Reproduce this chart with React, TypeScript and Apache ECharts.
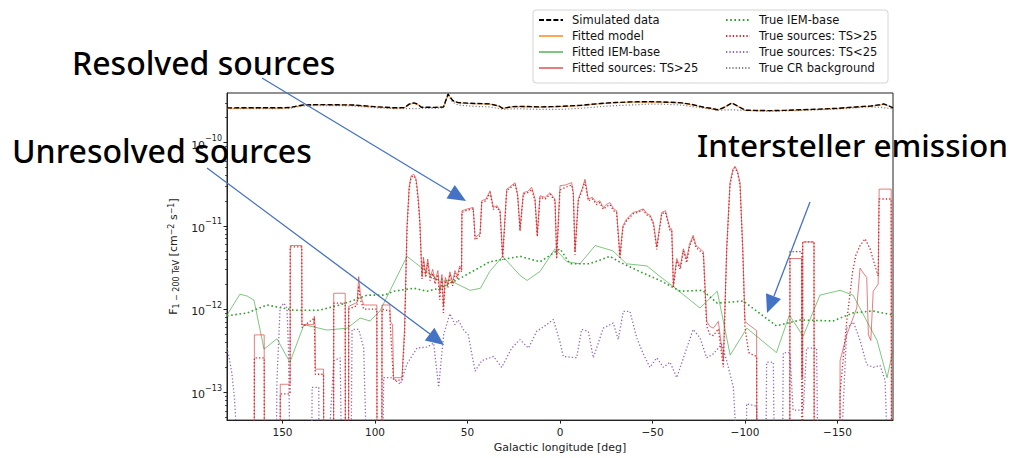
import React, { useEffect, useRef } from 'react';
import * as echarts from 'echarts';

// values in units of 1e-12 cm^-2 s^-1 ; B = below plotted floor
const UNIT = 1e-12;
const B = 0.01;

const simulatedData: number[][] = [
  [180, 261], [170, 262], [162, 262], [150, 262], [146, 264], [139, 283], [130, 286], [124, 285], [112, 283],
  [100, 270], [90, 262], [84, 263], [81.5, 290], [79, 300], [77, 290], [75, 266], [68, 265], [63, 268],
  [60.5, 383], [58, 320], [55, 302], [50, 298], [46, 295], [38, 292], [33, 275], [31, 258], [26, 270],
  [22, 272], [15, 270], [11, 268], [5, 270], [0, 272], [-11, 280], [-22, 295], [-30, 303], [-39, 308],
  [-48, 310], [-54, 308], [-60, 305], [-66, 300], [-72, 285], [-78, 265], [-82, 258], [-85, 248], [-88, 260],
  [-93, 299], [-96, 275], [-100, 245], [-107, 243], [-114, 242], [-122, 244], [-130, 248], [-140, 252],
  [-150, 258], [-160, 268], [-168, 275], [-173, 285], [-175, 291], [-178, 275], [-180, 261],
];

const fittedModel: number[][] = [
  [180, 258], [170, 260], [162, 261], [150, 260], [146, 263], [139, 281], [130, 284], [124, 284], [112, 281],
  [100, 268], [90, 261], [84, 262], [81.5, 288], [79, 298], [77, 288], [75, 265], [68, 264], [63, 267],
  [60.5, 378], [58, 318], [55, 300], [50, 296], [46, 293], [38, 290], [33, 274], [31, 257], [26, 268],
  [22, 270], [15, 268], [11, 266], [5, 268], [0, 270], [-11, 278], [-22, 293], [-30, 301], [-39, 306],
  [-48, 308], [-54, 306], [-60, 303], [-66, 298], [-72, 283], [-78, 263], [-82, 256], [-85, 247], [-88, 258],
  [-93, 296], [-96, 273], [-100, 244], [-107, 242], [-114, 241], [-122, 243], [-130, 247], [-140, 251],
  [-150, 257], [-160, 266], [-168, 273], [-173, 283], [-175, 288], [-178, 273], [-180, 259],
];

const trueCRBackground: number[][] = [
  [180, 255], [165, 256], [150, 256], [146, 258], [139, 276], [124, 278], [112, 276], [100, 262], [90, 256],
  [80, 256], [68, 257], [63, 262], [60.5, 372], [58, 305], [55, 282], [46, 272], [38, 268], [31, 252],
  [22, 255], [11, 250], [0, 250], [-11, 258], [-22, 270], [-30, 278], [-39, 283], [-48, 290], [-54, 290],
  [-66, 282], [-78, 258], [-85, 245], [-93, 248], [-100, 243], [-114, 238], [-130, 243], [-150, 252],
  [-166, 268], [-173, 265], [-180, 255],
];

const fittedIEM: number[][] = [
  [180, 0.85], [173, 1.51], [169, 1.43], [165.4, 1.28], [160, 0.33], [153, 0.44], [146, 0.23], [138.4, 0.65],
  [126, 0.56], [115, 0.59], [108, 0.78], [102.7, 0.72], [97.3, 0.95], [92, 1.64], [82.7, 4.3], [75.7, 3.25],
  [72, 2.83], [65, 2.15], [59.5, 2.21], [48.6, 1.68], [43, 1.78], [38, 2.83], [31, 4.3], [21.6, 2.54],
  [17.8, 2.21], [10.8, 2.83], [2.7, 5.3], [-3.8, 3.7], [-10.8, 3.5], [-19, 5.8], [-28.6, 5.0], [-36, 3.5],
  [-47, 3.3], [-54, 2.47], [-61, 1.88], [-75.7, 1.03], [-85, 1.64], [-92, 0.28], [-101, 0.59], [-117, 0.30],
  [-124, 0.85], [-131.4, 0.47], [-140.5, 1.47], [-151.4, 1.68], [-158.4, 1.47], [-171.4, 0.42],
  [-176.8, 0.15], [-180, 0.32],
];

const trueIEM: number[][] = [
  [180, 0.83], [169, 0.9], [158.4, 1.12], [144, 0.97], [130, 0.97], [119, 1.12], [111.4, 1.28], [104.3, 1.47],
  [95, 1.47], [89.7, 1.64], [79, 1.78], [72, 1.64], [65, 1.78], [54, 2.34], [38, 3.7], [21.6, 4.3],
  [10.8, 3.7], [0, 5.3], [-5.4, 3.5], [-16, 3.5], [-27, 4.3], [-32, 3.7], [-43, 2.83], [-54, 2.21],
  [-65, 1.64], [-77, 1.68], [-85, 1.18], [-99, 1.25], [-117, 0.63], [-130, 0.74], [-147.6, 0.72],
  [-158.4, 0.9], [-169, 0.95], [-180, 0.85],
];

const fittedSources: number[][] = [
  [180, B], [165.3, B], [165.2, 0.49], [159.9, 0.49], [159.8, B],
  [151.3, B], [151.2, 0.125], [145.9, 0.125], [145.8, 5.8], [139.6, 5.8], [139.5, 0.65], [133.2, 0.65],
  [132.8, 0.82], [132.4, 0.65], [132.3, 0.19], [127.8, 0.19], [127.7, B],
  [122.4, B], [122.3, 1.55], [116.1, 1.55], [116, B],
  [114.3, B], [114.2, 1.08], [109.7, 1.2], [108.8, 2.45], [107.9, 1.48], [106.1, 1.12], [99, 1.12], [98.9, B],
  [96.3, B], [96.2, 1.12], [92, 1.12], [91.7, 0.71], [90.5, 0.65], [90, 0.15], [85.4, 0.15], [84, 0.6],
  [82.7, 10], [81.5, 30], [80.5, 39.7], [79.1, 41.6], [78, 38], [77.3, 30], [76.5, 20], [75.8, 12], [74.6, 2.5],
  [73.8, 4.2], [72.6, 2.6], [71.5, 4.0], [70.2, 2.4], [68.8, 3.0], [67.5, 2.2], [66, 2.9], [65, 1.6],
  [63.8, 2.6], [63, 1.1], [62, 2.4], [60.6, 2.0], [59.5, 2.8], [58, 2.1], [56.8, 2.9], [55.5, 2.5], [54.2, 3.3],
  [53.2, 3.0],
  [53, 15.2], [50, 16], [46.9, 16.6], [45.9, 7.3], [43.2, 8.0], [42.3, 20], [40, 21], [37.8, 26.3], [36, 16.6],
  [34, 17.5], [32.4, 15.2], [31, 4.4], [28.8, 27.6], [26.5, 30], [24.3, 33], [22.9, 24], [21.6, 9.2], [19.8, 25],
  [17.5, 26], [15.3, 29], [13.5, 21], [12.3, 8.0], [10.8, 23], [8, 22], [5.4, 25], [2.7, 21], [1.8, 4.4],
  [0, 30.3], [-3, 31], [-6.3, 33], [-7.2, 25], [-8.1, 4.9], [-9.9, 21], [-12, 28], [-13.5, 36.3], [-15.3, 21],
  [-17.5, 22], [-19.8, 19], [-21.5, 20], [-23.4, 16.6], [-25, 18], [-27, 19], [-29, 16], [-30.6, 15.2],
  [-32.4, 4.4], [-34, 10], [-36, 12.1], [-39.6, 14.5], [-42, 15], [-45, 16], [-47, 14], [-48.6, 13.5],
  [-50.5, 11], [-52.3, 5.6], [-55, 14.5], [-57, 15.2], [-59.5, 9.2], [-60.4, 9.2], [-61.3, 1.95], [-63.1, 4.05],
  [-65, 3.2], [-66.7, 5.3], [-68.5, 4.0], [-70, 6.0], [-72, 7.7], [-73.5, 5.8], [-75.7, 5.3], [-77.5, 4.9],
  [-79.3, 0.71], [-81, 0.62], [-82.9, 0.59], [-85.6, 0.71], [-88.3, 0.24], [-90.1, 5.3], [-91.9, 33],
  [-93.5, 48], [-94.6, 52], [-96, 45], [-97.3, 33], [-98.8, 5.3], [-100, 0.71], [-102, 0.65], [-104.5, 0.59],
  [-106.3, 0.55], [-106.4, B],
  [-124.2, B], [-124.3, 4.05], [-130.6, 4.05], [-130.7, 0.15], [-131.1, 0.15], [-131.2, 6.4], [-137.3, 6.4],
  [-137.4, B],
  [-151.3, B], [-151.4, 0.24], [-155, 0.49], [-160.4, 1.03], [-162.2, 3.1], [-164, 2.7], [-165.8, 2.4],
  [-166.7, 0.49], [-168, 0.42], [-169.3, 1.64], [-172, 2.0], [-172.5, 27.6], [-179, 27.6], [-179.2, B], [-180, B],
];

const trueSourcesBright: number[][] = [
  [180, B], [165.3, B], [165.2, 0.26], [159.9, 0.26], [159.8, B],
  [151.3, B], [151.2, 0.096], [145.9, 0.096], [145.8, 5.6], [139.6, 5.6], [139.5, 0.6], [132.8, 0.78],
  [132.3, 0.165], [127.8, 0.165], [127.7, B],
  [122.4, B], [122.3, 1.18], [116.1, 1.18], [116, B],
  [114.3, B], [114.2, 1.0], [109.7, 1.1], [108.8, 1.9], [107.9, 1.3], [106.1, 1.0], [99, 1.0], [98.9, B],
  [96.3, B], [96.2, 1.0], [92, 0.95], [91.7, 0.62], [90, 0.14], [85.4, 0.14], [84, 0.5], [82.7, 9],
  [81.5, 28], [80.5, 38], [79.1, 40], [78, 37], [77.3, 28], [76.5, 18], [75.8, 11], [74.6, 2.3],
  [73.8, 3.8], [72.6, 2.4], [71.5, 3.6], [70.2, 2.2], [68.8, 2.7], [67.5, 2.0], [66, 2.6], [65, 1.3],
  [63.8, 2.4], [63, 0.9], [62, 2.2], [60.6, 1.8], [59.5, 2.6], [58, 1.9], [56.8, 2.7], [55.5, 2.3], [54.2, 3.1],
  [53.2, 2.8],
  [53, 14.5], [50, 15.5], [46.9, 16], [45.9, 6.8], [43.2, 7.6], [42.3, 19], [40, 20], [37.8, 25], [36, 15.8],
  [34, 16.8], [32.4, 14.5], [31, 3.9], [28.8, 26.5], [26.5, 29], [24.3, 32], [22.9, 23], [21.6, 8.6],
  [19.8, 24], [17.5, 25], [15.3, 27.5], [13.5, 20], [12.3, 7.4], [10.8, 22], [8, 21], [5.4, 24], [2.7, 20],
  [1.8, 4.0], [0, 27], [-3, 29], [-6.3, 31], [-7.2, 24], [-8.1, 4.5], [-9.9, 20], [-12, 27], [-13.5, 34],
  [-15.3, 20], [-17.5, 21], [-19.8, 18], [-21.5, 19], [-23.4, 15.8], [-25, 17], [-27, 18], [-29, 15.2],
  [-30.6, 14.5], [-32.4, 4.0], [-34, 9.5], [-36, 11.5], [-39.6, 14], [-42, 14.5], [-45, 15.5], [-47, 13.5],
  [-48.6, 13], [-50.5, 10.5], [-52.3, 5.2], [-55, 14], [-57, 14.5], [-59.5, 8.8], [-60.4, 8.8], [-61.3, 1.8],
  [-63.1, 3.8], [-65, 3.0], [-66.7, 5.0], [-68.5, 3.6], [-70, 5.7], [-72, 7.3], [-73.5, 5.5], [-75.7, 5.0],
  [-77.5, 4.6], [-79.3, 0.62], [-81, 0.5], [-82.9, 0.48], [-85.6, 0.58], [-88.3, 0.2], [-90.1, 5.0],
  [-91.9, 31], [-93.5, 46], [-94.6, 50], [-96, 43], [-97.3, 31], [-98.8, 5.0], [-100, 0.6], [-102, 0.3],
  [-104.5, 0.28], [-106.3, 0.27], [-106.4, B],
  [-124.2, B], [-124.3, 4.9], [-130.6, 4.9], [-130.7, B], [-131.1, B], [-131.2, 6.4], [-137.3, 6.4], [-137.4, B],
  [-151.3, B], [-151.4, 0.1], [-155, 0.72], [-158.2, 2.83], [-160, 4.5], [-162.2, 5.8], [-164.9, 7.0],
  [-167.6, 5.3], [-169.5, 3.8], [-171.2, 2.83], [-172, 2.5], [-172.5, 21], [-179, 21], [-179.2, B], [-180, B],
];

const trueSourcesFaint: number[][] = [
  [180, 0.34], [178.4, 0.23], [177.3, 0.164], [176, 0.087], [173.5, B],
  [153.5, B], [153, 0.14], [151.3, 1.03], [149.3, 1.18], [147.6, 1.03], [146.8, 0.34], [145.8, B],
  [134.2, B], [134, 0.115], [130.4, 0.115], [130.2, B],
  [126, B], [122.3, 0.24], [118.8, 0.26], [118, B],
  [113, B], [112.4, 0.57], [108.8, 0.57], [106.1, 0.34], [104.3, B],
  [96, B], [95.3, 0.15], [90.8, 0.15], [86.3, 0.125], [82.7, 0.22], [77.3, 0.34], [71.9, 0.35], [68.3, 0.39],
  [65.6, 0.115], [62.9, 0.49], [59.5, 0.88], [56.8, 0.65], [55, 0.74], [52.3, 0.57], [49.6, 0.49],
  [45.9, 0.18], [42.3, 0.24], [36, 0.27], [31.5, 0.2], [26.1, 0.34], [21.6, 0.43], [17.1, 0.34], [12.6, 0.54],
  [7.2, 0.65], [3.6, 0.75], [0, 0.4], [-1.8, 0.27], [-9, 0.26], [-11.7, 0.57], [-15.3, 0.54], [-18, 0.26],
  [-23.4, 0.59], [-28.8, 0.68], [-31.5, 0.43], [-34.2, 0.94], [-37.8, 0.94], [-41.5, 0.45], [-45, 0.29],
  [-48.6, 0.2], [-52.3, 0.26], [-55.9, 0.2], [-59.5, 0.23], [-63.1, 0.15], [-68.5, 0.34], [-72, 0.57],
  [-75.7, 0.45], [-79.3, 0.26], [-82.9, 0.29], [-87.4, 0.38], [-90.1, 0.24], [-93.7, 0.115], [-96.4, B],
  [-100.5, B], [-100.9, 0.073], [-106.3, 0.068], [-106.8, B],
  [-111.2, B], [-111.7, 0.23], [-115.3, 0.23], [-116, B],
  [-120.2, B], [-120.7, 0.3], [-124.3, 0.3], [-126, 0.061], [-131.5, 0.061], [-133.3, 0.34], [-138.7, 0.34],
  [-139.5, B],
  [-151.4, B], [-155, 0.59], [-158.6, 0.7], [-162.2, 0.42], [-165.8, 0.215], [-169.4, 0.2], [-173, 0.21],
  [-175.7, 0.14], [-177.5, B], [-180, B],
];

const xTicks = [150, 100, 50, 0, -50, -100, -150];
const yTicks = [1e-13, 1e-12, 1e-11, 1e-10];
const yMinorTicks: number[] = [];
for (let e = -14; e <= -10; e++) {
  for (let m = 2; m <= 9; m++) yMinorTicks.push(m * Math.pow(10, e));
}
const yMin = 4.64e-14;
const yMax = 3.94e-10;

const toData = (arr: number[][]) => arr.map(([l, v]) => [l, v * UNIT]);

const FONT = 'DejaVu Sans';

export default function App() {
  const ref = useRef<HTMLDivElement>(null);
  useEffect(() => {
    if (!ref.current) return;
    const chart = echarts.init(ref.current, undefined, { renderer: 'svg' });
    const minorInRange = yMinorTicks.filter((v) => v > yMin && v < yMax);
    const lineSeries = (name: string, data: number[][], color: string, width: number, dash: any, opacity = 1, z = 2) => ({
      name,
      type: 'line',
      data: toData(data),
      showSymbol: false,
      symbol: 'none',
      clip: true,
      z,
      lineStyle: { color, width, type: dash, opacity, cap: 'butt' },
      itemStyle: { color, opacity },
      emphasis: { disabled: true },
    });
    const arrowHead = (pts: number[][]) => ({
      type: 'polygon', z: 100, shape: { points: pts }, style: { fill: '#4472C4' },
    });
    const arrowLine = (x1: number, y1: number, x2: number, y2: number) => ({
      type: 'line', z: 100, shape: { x1, y1, x2, y2 }, style: { stroke: '#4472C4', lineWidth: 1.3 },
    });
    const bigText = (text: string, x: number, y: number, size: number) => ({
      type: 'text', z: 101, x, y,
      style: { text, fill: '#000', fontSize: size, fontFamily: 'Noto Sans', fontWeight: 500, verticalAlign: 'middle' },
    });
    const legendCommon = {
      orient: 'vertical',
      top: 14,
      itemWidth: 24,
      itemHeight: 12,
      itemGap: 4,
      selectedMode: false,
      padding: 0,
      itemStyle: { opacity: 0 },
      textStyle: { fontFamily: FONT, fontSize: 11.5, color: '#111', lineHeight: 12, padding: [0, 0, 0, 4] },
    };
    chart.setOption({
      animation: false,
      grid: { left: 227, top: 93, right: 117, bottom: 35, show: true, borderColor: '#222', borderWidth: 1, backgroundColor: 'transparent' },
      legend: [
        { ...legendCommon, left: 538, data: ['Simulated data', 'Fitted model', 'Fitted IEM-base', 'Fitted sources: TS>25'] },
        { ...legendCommon, left: 725, data: ['True IEM-base', 'True sources: TS>25', 'True sources: TS<25', 'True CR background'] },
      ],
      xAxis: {
        type: 'value', min: -180, max: 180, inverse: true,
        axisLine: { show: true, onZero: false, lineStyle: { color: '#222', width: 1 } },
        axisTick: { show: true, length: 3.5, customValues: xTicks, lineStyle: { color: '#222' } },
        axisLabel: {
          customValues: xTicks, margin: 6, fontFamily: FONT, fontSize: 10.5, color: '#222',
          formatter: (v: number) => (v < 0 ? '\u2212' + Math.abs(v) : String(v)),
        },
        splitLine: { show: false },
        name: 'Galactic longitude [deg]', nameLocation: 'middle', nameGap: 21,
        nameTextStyle: { fontFamily: FONT, fontSize: 11, color: '#222' },
      },
      yAxis: [
        {
          type: 'log', logBase: 10, min: yMin, max: yMax,
          axisLine: { show: true, onZero: false, lineStyle: { color: '#222', width: 1 } },
          axisTick: { show: true, length: 3.5, customValues: yTicks, lineStyle: { color: '#222' } },
          axisLabel: {
            customValues: yTicks, margin: 5, color: '#222',
            formatter: (v: number) => `{b|10}{s|\u2212${Math.abs(Math.round(Math.log10(v)))}}`,
            rich: {
              b: { fontFamily: FONT, fontSize: 11, color: '#222', lineHeight: 16, verticalAlign: 'bottom' },
              s: { fontFamily: FONT, fontSize: 8, color: '#222', lineHeight: 16, verticalAlign: 'top' },
            },
          },
          splitLine: { show: false },
          name: 'F{sub|1 \u2212 200 TeV} [cm{sup|\u22122} s{sup|\u22121}]',
          nameLocation: 'middle', nameGap: 44,
          nameTextStyle: {
            fontFamily: FONT, fontSize: 11, color: '#222',
            rich: {
              sub: { fontFamily: FONT, fontSize: 8, color: '#222', padding: [5, 0, 0, 0] },
              sup: { fontFamily: FONT, fontSize: 8, color: '#222', padding: [0, 0, 5, 0] },
            },
          },
        },
        {
          type: 'log', logBase: 10, min: yMin, max: yMax, position: 'left',
          axisLine: { show: false, onZero: false },
          axisTick: { show: true, length: 2, customValues: minorInRange, lineStyle: { color: '#222', width: 0.8 } },
          axisLabel: { show: false },
          splitLine: { show: false },
        },
      ],
      series: [
        lineSeries('True CR background', trueCRBackground, '#7f7f7f', 1.2, [1.2, 2], 1, 2),
        lineSeries('True IEM-base', trueIEM, '#2ca02c', 1.6, [1.6, 2.6], 1, 3),
        lineSeries('Fitted IEM-base', fittedIEM, '#2ca02c', 1, 'solid', 0.6, 3),
        lineSeries('True sources: TS<25', trueSourcesFaint, '#9467bd', 1.3, [1.3, 2.1], 1, 3),
        lineSeries('Fitted sources: TS>25', fittedSources, '#d62728', 1, 'solid', 0.6, 4),
        lineSeries('True sources: TS>25', trueSourcesBright, '#d62728', 1.3, [1.3, 2.1], 1, 4),
        lineSeries('Fitted model', fittedModel, '#ff7f0e', 1.2, 'solid', 0.7, 5),
        lineSeries('Simulated data', simulatedData, '#000000', 1.4, [5, 2.2], 1, 6),
      ],
      graphic: [
        { type: 'rect', z: 1, shape: { x: 533, y: 10, width: 355, height: 73, r: 3 }, style: { fill: 'rgba(255,255,255,0.8)', stroke: '#d4d4d4', lineWidth: 1 } },
        bigText('Resolved sources', 72, 62, 32),
        bigText('Unresolved sources', 12, 150, 32),
        bigText('Intersteller emission', 697, 144, 31.5),
        arrowLine(262, 78, 451, 192),
        arrowHead([[466, 201], [446.5, 198.5], [454.7, 184.9]]),
        arrowLine(207, 168, 430, 334),
        arrowHead([[444, 345], [424.8, 340.6], [434.4, 327.8]]),
        arrowLine(810, 202, 774, 296),
        arrowHead([[767, 313], [766, 293.3], [781, 299.1]]),
      ],
    });
    return () => chart.dispose();
  }, []);
  return <div ref={ref} style={{ position: 'fixed', left: 0, top: 0, width: 1010, height: 458, background: '#fff' }} />;
}
